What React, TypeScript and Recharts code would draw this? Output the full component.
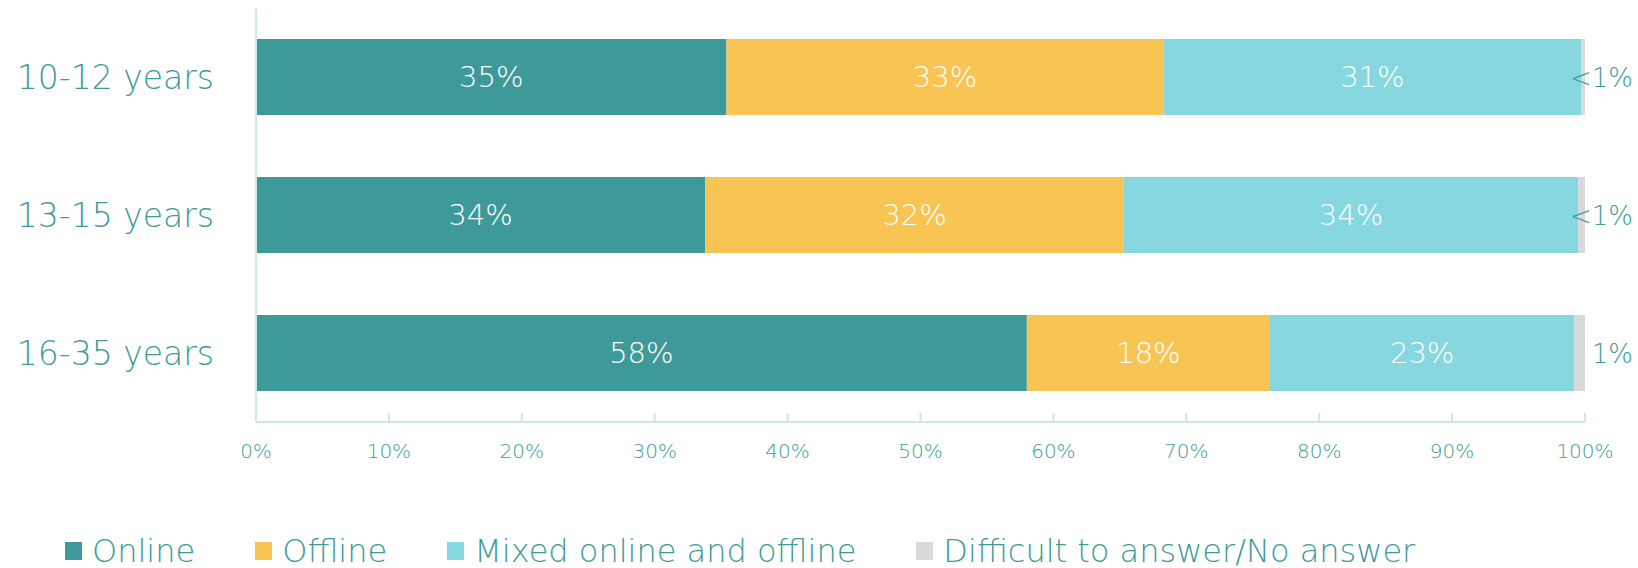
import { BarChart, Bar, XAxis, YAxis, Legend, LabelList } from 'recharts'

const categories = ['10-12 years', '13-15 years', '16-35 years']
const online = [35.4, 33.8, 58.0]
const offline = [32.9, 31.5, 18.3]
const mixed = [31.4, 34.2, 22.9]
const noAnswer = [0.3, 0.5, 0.8]
const noAnswerLabels = ['<1%', '<1%', '1%']
const xTicks = [0, 10, 20, 30, 40, 50, 60, 70, 80, 90, 100]

const SERIES = [
  { key: 'online', name: 'Online', color: '#3d9a98' },
  { key: 'offline', name: 'Offline', color: '#f8c453' },
  { key: 'mixed', name: 'Mixed online and offline', color: '#86d7df' },
  { key: 'noAnswer', name: 'Difficult to answer/No answer', color: '#d9d9d9' },
]

const TEAL = '#3d9a98'
const FONT = '"DejaVu Sans", sans-serif'

const data = categories.map((c, i) => ({
  category: c,
  online: online[i],
  offline: offline[i],
  mixed: mixed[i],
  noAnswer: noAnswer[i],
  naLabel: noAnswerLabels[i],
}))

const inside = (props: any) => {
  const { x, y, width, height, value } = props
  return (
    <text
      x={x + width / 2}
      y={y + height / 2}
      dy={10}
      textAnchor="middle"
      fill="#fff"
      fontSize={29}
      fontWeight={200}
      fontFamily={FONT}
    >
      {Math.round(value)}%
    </text>
  )
}

const outside = (props: any) => {
  const { x, y, width, height, value } = props
  return (
    <text
      x={x + width + 48}
      y={y + height / 2}
      dy={10}
      textAnchor="end"
      fill={TEAL}
      fontSize={26}
      fontWeight={200}
      fontFamily={FONT}
    >
      {value}
    </text>
  )
}

const XTick = (props: any) => {
  const { x, y, payload } = props
  return (
    <g>
      <line x1={x} x2={x} y1={y - 9} y2={y} stroke="#cfe6e6" strokeWidth={2} />
      <text x={x} y={y + 36} textAnchor="middle" fill={TEAL} fontSize={20} fontWeight={200} fontFamily={FONT}>
        {payload.value}%
      </text>
    </g>
  )
}

const YTick = (props: any) => {
  const { x, y, payload } = props
  return (
    <text x={x - 42} y={y} dy={12} textAnchor="end" fill={TEAL} fontSize={33} fontWeight={200} fontFamily={FONT}>
      {payload.value}
    </text>
  )
}

const LegendContent = () => (
  <div
    style={{
      display: 'flex',
      alignItems: 'center',
      height: 66,
      fontFamily: FONT,
      fontWeight: 200,
      fontSize: 32,
      lineHeight: 1,
      color: TEAL,
    }}
  >
    {SERIES.map((s, i) => (
      <div key={s.key} style={{ display: 'flex', alignItems: 'center', marginRight: i < 3 ? 60 : 0 }}>
        <span style={{ width: 17, height: 18, background: s.color, marginRight: 10, display: 'inline-block' }} />
        <span>{s.name}</span>
      </div>
    ))}
  </div>
)

export default function App() {
  return (
    <div style={{ position: 'absolute', left: 0, top: 0, background: '#fff' }}>
      <BarChart
        width={1638}
        height={568}
        data={data}
        layout="vertical"
        margin={{ top: 8, right: 53, left: 0, bottom: 0 }}
        barSize={76}
      >
        <XAxis
          type="number"
          domain={[0, 100]}
          ticks={xTicks}
          interval={0}
          tickLine={false}
          tickSize={0}
          tickMargin={0}
          axisLine={{ stroke: '#cfe6e6', strokeWidth: 2 }}
          tick={<XTick />}
          height={80}
        />
        <YAxis
          type="category"
          dataKey="category"
          width={256}
          tickLine={false}
          tickSize={0}
          tickMargin={0}
          axisLine={{ stroke: '#cfe6e6', strokeWidth: 2 }}
          tick={<YTick />}
        />
        <Legend
          verticalAlign="bottom"
          align="left"
          content={<LegendContent />}
          wrapperStyle={{ left: 65, top: 518, height: 66 }}
        />
        {SERIES.map((s) => (
          <Bar key={s.key} dataKey={s.key} stackId="a" fill={s.color} isAnimationActive={false}>
            {s.key === 'noAnswer' ? (
              <LabelList dataKey="naLabel" content={outside} />
            ) : (
              <LabelList dataKey={s.key} content={inside} />
            )}
          </Bar>
        ))}
      </BarChart>
    </div>
  )
}
